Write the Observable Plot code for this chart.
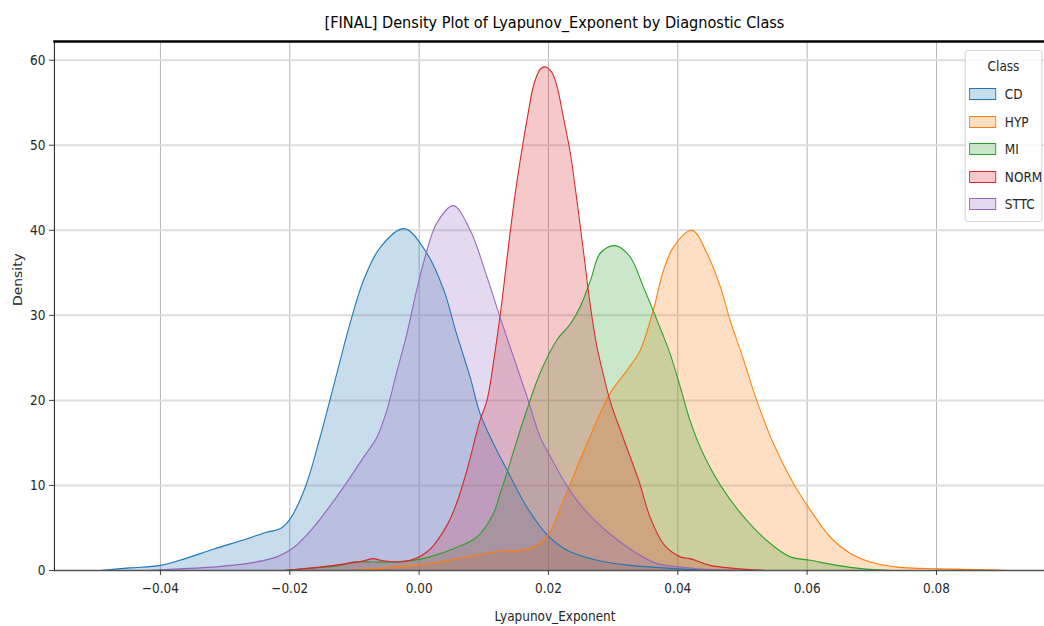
<!DOCTYPE html>
<html><head><meta charset="utf-8">
<script src="https://cdn.jsdelivr.net/npm/d3@7"></script>
<script src="https://cdn.jsdelivr.net/npm/@observablehq/plot@0.6"></script>
<style>
html,body{margin:0;padding:0;background:#fff;overflow:hidden;width:1044px;height:626px;}
#wrap{position:absolute;left:0;top:0;transform-origin:0 0;font-family:"DejaVu Sans",sans-serif;}
#title{height:36px;box-sizing:border-box;padding-top:12px;line-height:20px;font-size:16.7px;text-align:center;color:#000;white-space:nowrap;}
#legend{position:absolute;background:rgba(255,255,255,0.85);border:1px solid #d0d0d0;border-radius:3px;box-sizing:border-box;font-size:13.9px;color:#262626;}
#legend .it{position:absolute;white-space:nowrap;}
#legend .sw{position:absolute;box-sizing:border-box;border-width:1.3px;border-style:solid;}
</style></head>
<body><div id="wrap"><div id="title"></div><div id="chart"></div><div id="legend"></div></div>
<script>
// ---- data ----
const classes = ["CD", "HYP", "MI", "NORM", "STTC"];
const colors = ["#1f77b4", "#ff7f0e", "#2ca02c", "#d62728", "#9467bd"];
const xTicks = [-0.04, -0.02, 0.00, 0.02, 0.04, 0.06, 0.08];
const yTicks = [0, 10, 20, 30, 40, 50, 60];

const cdX = [-0.0493,-0.0447,-0.040,-0.037,-0.0318,-0.0267,-0.0236,-0.0215,-0.020,-0.0176,-0.0153,-0.0138,-0.0122,-0.0107,-0.0086,-0.006,-0.0023,0.0012,0.0038,0.0058,0.0079,0.0094,0.0115,0.0136,0.0167,0.0198,0.0228,0.0275,0.0326,0.036,0.040,0.045];
const cdY = [0,0.3,0.6,1.2,2.5,3.7,4.5,4.9,6.0,9.8,15.7,20,24.7,29,34.1,38,40.2,37.3,33,27.8,22.7,18.5,14.9,11.8,7.4,4.2,2.4,1.2,0.6,0.4,0.2,0];

const hypX = [-0.011,-0.0034,0.0017,0.0069,0.012,0.0172,0.0198,0.0223,0.0254,0.0275,0.0295,0.0321,0.0342,0.0362,0.0378,0.0393,0.0422,0.0445,0.0466,0.0481,0.0502,0.0522,0.0548,0.0579,0.0605,0.0636,0.0667,0.0698,0.0739,0.080,0.086,0.0914];
const hypY = [0,0.4,0.8,1.5,2.2,2.6,4.0,8.2,13.9,17.6,20.8,23.5,25.9,30.6,35.3,38,40,37.3,33.3,29.4,24.7,20,14.9,10.2,7.1,3.9,2.0,1.0,0.4,0.2,0.1,0];

const miX = [-0.021,-0.0164,-0.0122,-0.0102,-0.007,-0.004,-0.0009,0.0017,0.0058,0.0089,0.0115,0.0125,0.0136,0.0146,0.0161,0.0187,0.0213,0.0234,0.0249,0.0265,0.028,0.0303,0.0326,0.0347,0.0368,0.0388,0.0406,0.0419,0.0437,0.0466,0.0502,0.0538,0.0574,0.0605,0.0646,0.0687,0.073];
const miY = [0,0.3,0.6,1.0,1.0,1.0,1.2,1.6,2.7,3.9,6.7,9.0,11.5,14.0,17.6,23.2,27.1,29,31,34.1,37.3,38.2,36.9,33.3,29.4,25.5,21,17.6,14.1,10,6.3,3.5,1.6,1.2,0.6,0.2,0];

const normX = [-0.021,-0.0153,-0.0112,-0.0087,-0.0071,-0.006,-0.0034,-0.0009,0.0017,0.0043,0.0058,0.0074,0.0094,0.0105,0.0117,0.0127,0.0138,0.0148,0.0158,0.0168,0.0178,0.0188,0.0196,0.0205,0.0213,0.0223,0.0234,0.0244,0.0254,0.0265,0.0275,0.0285,0.0295,0.0316,0.034,0.0357,0.0378,0.0404,0.0419,0.045,0.0486,0.0535];
const normY = [0,0.4,0.8,1.1,1.4,1.2,1.0,1.3,2.5,5.3,7.9,11.8,17.6,20,25.5,31,38,44,49,53.5,57.3,59,59.2,58.6,57,53.3,49,43.5,37.6,31,26.3,23,20,15.5,10.5,6.3,3.1,1.6,1.4,0.6,0.25,0];

const sttcX = [-0.042,-0.037,-0.032,-0.0267,-0.022,-0.0194,-0.0163,-0.0115,-0.0086,-0.0065,-0.005,-0.0034,-0.0019,-0.0004,0.0012,0.0027,0.0053,0.0079,0.0105,0.0125,0.0146,0.0167,0.0187,0.0198,0.0228,0.0254,0.0295,0.0337,0.0368,0.041,0.0455,0.05];
const sttcY = [0,0.2,0.4,0.8,1.6,2.7,5.1,10,13.3,15.7,18.8,23.5,27.8,32.9,37.6,40.8,42.9,40,34.5,29.8,25.1,20.4,15.7,14.1,10,7.3,4.3,2.0,0.8,0.35,0.1,0];

const titleText = "[FINAL] Density Plot of Lyapunov_Exponent by Diagnostic Class";
const xLabel = "Lyapunov_Exponent";
const yLabel = "Density";
const legendTitle = "Class";

// ---- build table ----
const seriesX = [cdX, hypX, miX, normX, sttcX];
const seriesY = [cdY, hypY, miY, normY, sttcY];
const rows = [];
classes.forEach((c, i) => seriesX[i].forEach((x, j) => rows.push({cls: c, x, y: seriesY[i][j]})));

// ---- layout ----
const S = 0.87;               // horizontal compression of the reference
const wrap = document.getElementById("wrap");
wrap.style.width = (1070 / S) + "px";
wrap.style.transform = `scaleX(${S})`;

const title = document.getElementById("title");
title.textContent = titleText;
title.style.marginLeft = (54 / S) + "px";
title.style.width = ((1055 - 54) / S) + "px";

const fmt = d3.format(".2f");
const chart = Plot.plot({
  width: 1070 / S,
  height: 590,
  marginLeft: 54 / S,
  marginRight: 15 / S,
  marginTop: 5,
  marginBottom: 56,
  style: {fontFamily: "DejaVu Sans, sans-serif", fontSize: "13.9px", color: "#262626", background: "transparent", overflow: "visible"},
  x: {domain: [-0.05639, 0.09839]},
  y: {domain: [0, 62.2]},
  color: {domain: classes, range: colors},
  marks: [
    Plot.gridX(xTicks, {stroke: "#b0b0b0", strokeOpacity: 1, strokeWidth: 1}),
    Plot.gridY(yTicks.filter(d => d > 0), {stroke: "#dddddd", strokeOpacity: 1, strokeWidth: 2}),
    Plot.areaY(rows, {x: "x", y1: 0, y2: "y", z: "cls", fill: "cls", fillOpacity: 0.25, curve: "catmull-rom"}),
    Plot.lineY(rows, {x: "x", y: "y", z: "cls", stroke: "cls", strokeWidth: 1.2, curve: "catmull-rom"}),
    Plot.frame({anchor: "bottom", stroke: "#555", strokeWidth: 1.6}),
    Plot.frame({anchor: "left", stroke: "#333", strokeWidth: 1.3}),
    Plot.frame({anchor: "top", stroke: "#000", strokeWidth: 2.6}),
    Plot.axisX(xTicks, {tickFormat: fmt, tickSize: 5, tickPadding: 8, label: null, stroke: "#333"}),
    Plot.axisY(yTicks, {tickSize: 5 / S, tickPadding: 4 / S, label: null, stroke: "#333"}),
    Plot.text([xLabel], {text: d => d, frameAnchor: "bottom", dy: 46, lineAnchor: "middle", fill: "#262626"}),
    Plot.text([yLabel], {text: d => d, frameAnchor: "left", dx: -36 / S, rotate: -90, lineAnchor: "middle", fill: "#262626"})
  ]
});
document.getElementById("chart").appendChild(chart);

// ---- legend ----
const lg = document.getElementById("legend");
lg.style.left = (965 / S) + "px";
lg.style.top = "50px";
lg.style.width = (77 / S) + "px";
lg.style.height = "172px";
const lt = document.createElement("div");
lt.className = "it";
lt.textContent = legendTitle;
lt.style.left = "0"; lt.style.width = "100%"; lt.style.textAlign = "center";
lt.style.top = "6px"; lt.style.lineHeight = "18px";
lg.appendChild(lt);
classes.forEach((c, i) => {
  const cy = 43 + i * 27.5;
  const sw = document.createElement("div");
  sw.className = "sw";
  sw.style.left = (3 / S) + "px";
  sw.style.width = (27 / S) + "px";
  sw.style.top = (cy - 6) + "px";
  sw.style.height = "12px";
  sw.style.borderColor = colors[i];
  sw.style.background = d3.color(colors[i]).copy({opacity: 0.25}).formatRgb();
  lg.appendChild(sw);
  const t = document.createElement("div");
  t.className = "it";
  t.textContent = c;
  t.style.left = (39 / S) + "px";
  t.style.top = (cy - 9) + "px";
  t.style.lineHeight = "18px";
  lg.appendChild(t);
});
</script>
</body></html>
